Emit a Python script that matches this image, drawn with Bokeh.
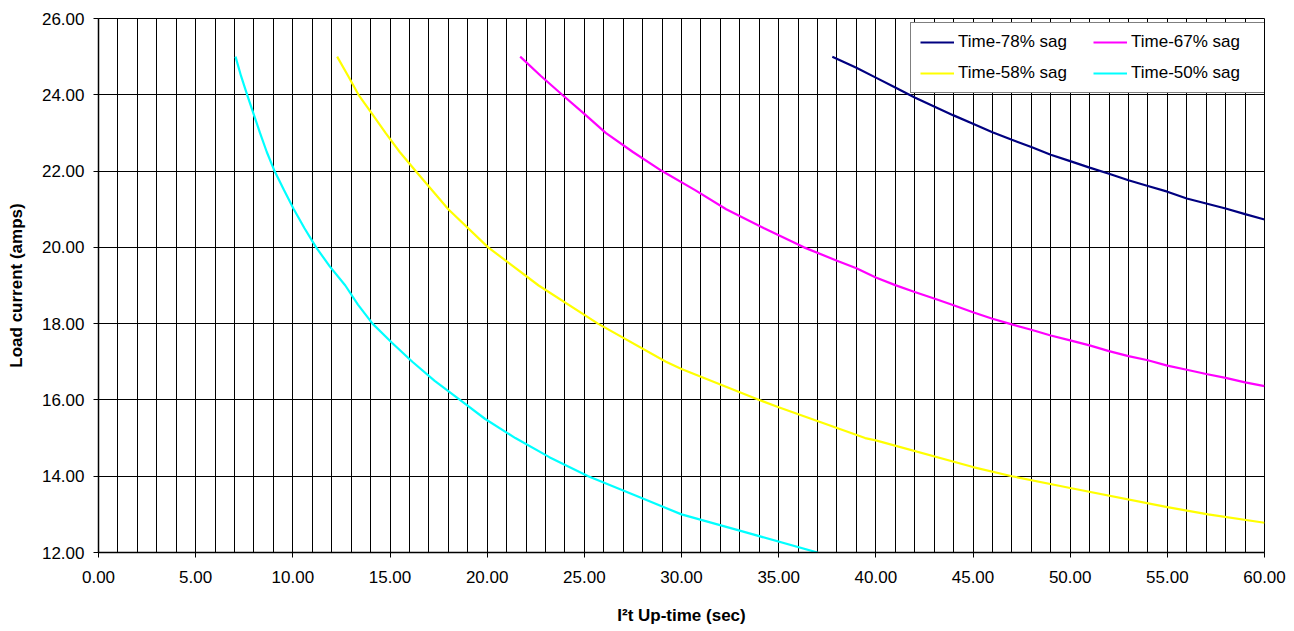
from bokeh.plotting import figure
from bokeh.models import (SingleIntervalTicker, Legend, LegendItem,
                          NumeralTickFormatter, Range1d)
from bokeh.embed import file_html
from bokeh.resources import INLINE

# ---- data (x = up-time in sec, y = load current in amps)
sag78_time = [37.76, 39, 40, 41, 42, 43, 44, 45, 46, 47, 48, 49, 50, 51, 52,
              53, 54, 55, 56, 57, 58, 59, 60]
sag78_current = [25.0, 24.71, 24.45, 24.19, 23.93, 23.69, 23.46, 23.24, 23.02,
                 22.82, 22.63, 22.43, 22.26, 22.09, 21.93, 21.76, 21.61, 21.46,
                 21.28, 21.15, 21.02, 20.87, 20.73]

sag67_time = [21.7, 22.75, 23.86, 25.0, 26.1, 27.5, 29.0, 30.7, 32.3, 34.25,
              36.3, 38, 39, 40, 41, 42, 43, 44, 45, 46, 47, 48, 49, 50, 51, 52,
              53, 54, 55, 56, 57, 58, 59, 60]
sag67_current = [25.0, 24.5, 24.0, 23.5, 23.0, 22.5, 22.0, 21.5, 21.0, 20.5,
                 20.0, 19.65, 19.45, 19.21, 19.01, 18.83, 18.66, 18.48, 18.30,
                 18.13, 17.98, 17.84, 17.69, 17.56, 17.43, 17.28, 17.15, 17.04,
                 16.90, 16.79, 16.68, 16.58, 16.46, 16.36]

sag58_time = [12.28, 12.84, 13.38, 14.08, 14.77, 15.5, 16.32, 18.0, 20.05,
              22.65, 25.7, 29.2, 30, 34.0, 35, 39.45, 40, 45, 47.0, 50, 55,
              57.1, 60]
sag58_current = [25.0, 24.5, 24.0, 23.5, 23.0, 22.5, 22.0, 21.0, 20.0, 19.0,
                 18.0, 17.0, 16.81, 16.0, 15.81, 15.0, 14.94, 14.24, 14.0,
                 13.69, 13.19, 13.0, 12.78]

sag50_time = [7.05, 7.33, 7.65, 7.98, 8.31, 8.66, 9.06, 9.55, 10.05, 10.6,
              11.2, 11.9, 12.7, 13.35, 14.1, 15.1, 16.15, 17.3, 18.6, 19.9,
              21.45, 23.2, 25.2, 27.6, 30.0, 33.5, 37.0]
sag50_current = [25.0, 24.5, 24.0, 23.5, 23.0, 22.5, 22.0, 21.5, 21.0, 20.5,
                 20.0, 19.5, 19.0, 18.5, 18.0, 17.5, 17.0, 16.5, 16.0, 15.5,
                 15.0, 14.5, 14.0, 13.5, 13.0, 12.5, 12.0]

series_names = ["Time-78% sag", "Time-67% sag", "Time-58% sag", "Time-50% sag"]
series_colors = ["#000080", "#FF00FF", "#FFFF00", "#00FFFF"]

FONT = "Liberation Sans"

p = figure(width=1294, height=631, output_backend="svg", toolbar_location=None,
           x_range=Range1d(0, 60), y_range=Range1d(12, 26),
           min_border_left=98, min_border_right=30, min_border_top=18,
           min_border_bottom=79, background_fill_color="white",
           border_fill_color="white")
p.outline_line_color = "black"
p.outline_line_width = 1

# axes
p.xaxis.ticker = SingleIntervalTicker(interval=5, num_minor_ticks=5)
p.yaxis.ticker = SingleIntervalTicker(interval=2, num_minor_ticks=0)
p.xaxis.formatter = NumeralTickFormatter(format="0.00")
p.yaxis.formatter = NumeralTickFormatter(format="0.00")
for ax in (p.xaxis, p.yaxis):
    ax.axis_line_color = "black"
    ax.axis_line_width = 1.5
    ax.major_tick_line_color = "black"
    ax.major_tick_out = 5
    ax.major_tick_in = 0
    ax.minor_tick_line_color = None
    ax.major_label_text_font = FONT
    ax.major_label_text_font_size = "17px"
    ax.major_label_text_color = "black"
    ax.axis_label_text_font = FONT
    ax.axis_label_text_font_size = "17px"
    ax.axis_label_text_font_style = "bold"
    ax.axis_label_text_color = "black"
p.xaxis.major_label_standoff = 13
p.yaxis.major_label_standoff = 9
p.xaxis.axis_label = "I²t Up-time (sec)"
p.yaxis.axis_label = "Load current (amps)"
p.xaxis.axis_label_standoff = 20
p.yaxis.axis_label_standoff = 13

# grid
p.xgrid.grid_line_color = "black"
p.xgrid.grid_line_width = 1
p.xgrid.minor_grid_line_color = "black"
p.xgrid.minor_grid_line_width = 1
p.ygrid.grid_line_color = "black"
p.ygrid.grid_line_width = 1

renderers = []
for xs, ys, color in [(sag78_time, sag78_current, series_colors[0]),
                      (sag67_time, sag67_current, series_colors[1]),
                      (sag58_time, sag58_current, series_colors[2]),
                      (sag50_time, sag50_current, series_colors[3])]:
    r = p.line(xs, ys, line_color=color, line_width=2.2)
    renderers.append(r)

legend = Legend(items=[LegendItem(label=n, renderers=[r])
                       for n, r in zip(series_names, renderers)],
                location=(812, 459), orientation="horizontal", ncols=2)
legend.glyph_width = 34
legend.glyph_height = 20
legend.label_height = 20
legend.label_width = 124
legend.label_standoff = 4
legend.spacing = 11
legend.padding = 9
legend.margin = 0
legend.label_text_font = FONT
legend.label_text_font_size = "17px"
legend.label_text_color = "black"
legend.border_line_color = "black"
legend.border_line_width = 1.5
legend.background_fill_color = "white"
legend.background_fill_alpha = 1
p.add_layout(legend)

open("out.html", "w").write(file_html(p, INLINE))
